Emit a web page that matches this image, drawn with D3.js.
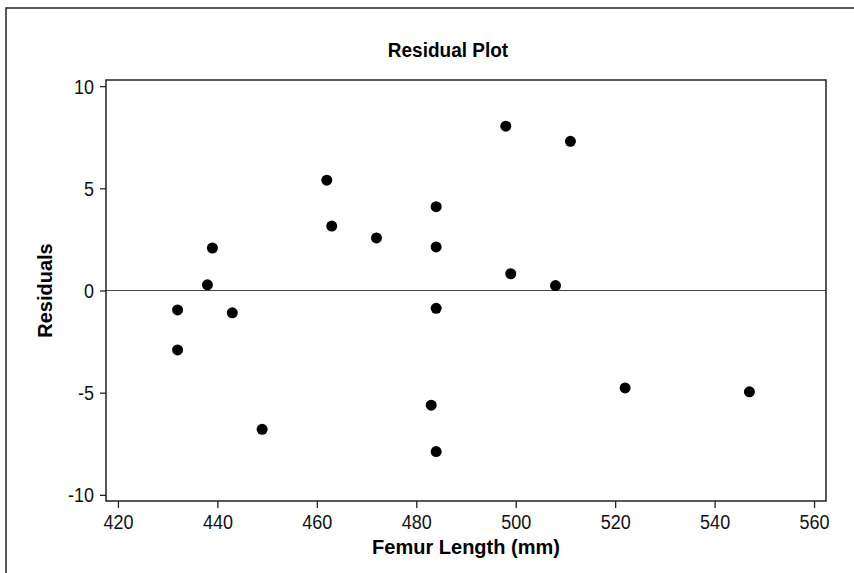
<!DOCTYPE html>
<html lang="en">
<head>
    <meta charset="UTF-8">
    <title>Residual Plot</title>
    <script src="https://d3js.org/d3.v7.min.js"></script>
    <style>
        body { margin: 0; background: white; }
        text { font-family: "Liberation Sans", Arial, sans-serif; }
    </style>
</head>
<body>

    <script>
        // data
        var femurLength = [432, 432, 438, 439, 443, 449, 462, 463, 472, 483,
                           484, 484, 484, 484, 498, 499, 508, 511, 522, 547];
        var residuals = [-0.95, -2.91, 0.28, 2.08, -1.09, -6.79, 5.40, 3.15, 2.57, -5.61,
                         4.10, 2.13, -0.87, -7.88, 8.04, 0.82, 0.24, 7.30, -4.77, -4.96];
        var xTicks = [420, 440, 460, 480, 500, 520, 540, 560];
        var yTicks = [-10, -5, 0, 5, 10];

        var data = femurLength.map(function(d, i) { return {x: d, y: residuals[i]}; });

        // the original text looks a bit taller than it is wide
        var stretch = 1.1;

        // margins for the plot box
        var margin = {top: 80, right: 28, bottom: 72, left: 106},
            width = 854 - margin.left - margin.right,
            height = 573 - margin.top - margin.bottom;

        var svg = d3.select("body").append("svg")
            .attr("width", 854)
            .attr("height", 573);

        // outer frame, runs off the right and bottom of the picture
        svg.append("rect")
            .attr("x", 6)
            .attr("y", 8)
            .attr("width", 900)
            .attr("height", 600)
            .style("fill", "none")
            .style("stroke", "#222")
            .style("stroke-width", 1.5);

        var g = svg.append("g")
            .attr("transform", "translate(" + margin.left + "," + margin.top + ")");

        // scales, padded a little past the end ticks
        var x = d3.scaleLinear()
            .domain([417.6, 562.4])
            .range([0, width]);
        var y = d3.scaleLinear()
            .domain([-10.3, 10.3])
            .range([height, 0]);

        // plain hyphen for negatives, like the original
        var fmt = d => String(d);

        // x axis
        var xAxis = g.append("g")
            .attr("transform", "translate(0," + height + ")")
            .call(d3.axisBottom(x).tickValues(xTicks).tickSize(7).tickFormat(fmt));
        xAxis.select(".domain").remove();
        xAxis.selectAll(".tick text")
            .attr("y", 0)
            .attr("dy", 0)
            .attr("transform", "translate(0,28) scale(1," + stretch + ")");

        // y axis
        var yAxis = g.append("g")
            .call(d3.axisLeft(y).tickValues(yTicks).tickSize(6).tickFormat(fmt));
        yAxis.select(".domain").remove();
        yAxis.selectAll(".tick text")
            .attr("x", 0)
            .attr("dy", 0)
            .attr("transform", "translate(-12,7) scale(1," + stretch + ")");

        g.selectAll(".tick text")
            .style("font-size", "18px")
            .style("font-family", "'Liberation Sans', Arial, sans-serif")
            .attr("fill", "#111");
        g.selectAll(".tick line").attr("stroke", "#222").attr("stroke-width", 1.3);

        // zero reference line
        g.append("line")
            .attr("x1", 0)
            .attr("x2", width)
            .attr("y1", y(0))
            .attr("y2", y(0))
            .style("stroke", "#444")
            .style("stroke-width", 1.2);

        // plot box
        g.append("rect")
            .attr("x", 0)
            .attr("y", 0)
            .attr("width", width)
            .attr("height", height)
            .style("fill", "none")
            .style("stroke", "#222")
            .style("stroke-width", 1.5);

        // the points
        g.append("g")
            .selectAll("circle")
            .data(data)
            .enter()
            .append("circle")
            .attr("cx", d => x(d.x))
            .attr("cy", d => y(d.y))
            .attr("r", 5.5)
            .style("fill", "black");

        // title
        svg.append("text")
            .attr("transform", "translate(448,57) scale(1," + stretch + ")")
            .attr("text-anchor", "middle")
            .style("font-size", "19px")
            .style("font-weight", "bold")
            .text("Residual Plot");

        // x axis label
        svg.append("text")
            .attr("transform", "translate(" + (margin.left + width / 2) + ",554)")
            .attr("text-anchor", "middle")
            .style("font-size", "20px")
            .style("font-weight", "bold")
            .text("Femur Length (mm)");

        // y axis label
        svg.append("text")
            .attr("transform", "translate(52," + (margin.top + height / 2) + ") rotate(-90)")
            .attr("text-anchor", "middle")
            .style("font-size", "20px")
            .style("font-weight", "bold")
            .text("Residuals");
    </script>

</body>
</html>
